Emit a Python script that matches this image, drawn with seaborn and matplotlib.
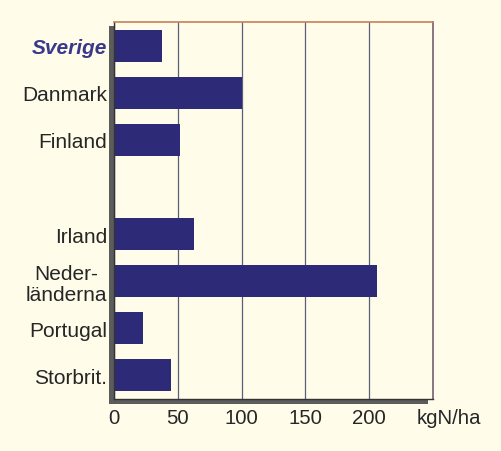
import matplotlib
matplotlib.use("Agg")
import matplotlib.pyplot as plt
from matplotlib.patches import Rectangle
import seaborn as sns
import pandas as pd

# Nitrogen surplus per hectare of farmland
countries = ["Sverige", "Danmark", "Finland", "Irland", "Neder-\nländerna", "Portugal", "Storbrit."]
values = [38, 100, 52, 63, 206, 23, 45]
# an empty slot separates the Nordic countries from the rest
order = ["Sverige", "Danmark", "Finland", " ", "Irland", "Neder-\nländerna", "Portugal", "Storbrit."]
xticks = [0, 50, 100, 150, 200]
unit = "kgN/ha"

paper = "#fffcea"
navy = "#2d2b78"
grid = "#5a5e7a"
ink = "#262626"

sns.set_theme(style="white")
plt.rcParams["font.family"] = ["Liberation Sans", "DejaVu Sans"]

df = pd.DataFrame({"land": countries, "kg": values})

fig = plt.figure(figsize=(5.02, 4.52), dpi=100, facecolor=paper)
ax = fig.add_axes([0.2271, 0.1150, 0.6354, 0.8341])
ax.set_facecolor(paper)

sns.barplot(data=df, x="kg", y="land", order=order, orient="h",
            color=navy, saturation=1, width=0.68, ax=ax, edgecolor="none")

ax.set_xlim(0, 250)
ax.set_ylim(7.5, -0.5)
ax.set_xticks(xticks)
ax.set_xticklabels([str(t) for t in xticks], fontsize=14.7, color=ink)
ax.xaxis.grid(True, color=grid, linewidth=0.9)
ax.yaxis.grid(False)
ax.set_axisbelow(True)
ax.set_xlabel("")
ax.set_ylabel("")
ax.tick_params(axis="x", length=0, pad=6.5)
ax.tick_params(axis="y", length=0, pad=5)

for lab in ax.get_yticklabels():
    lab.set_fontsize(15)
    lab.set_color(ink)
    lab.set_multialignment("center")
    lab.set_linespacing(1.1)
    if lab.get_text() == "Sverige":
        lab.set_fontweight("bold")
        lab.set_fontstyle("italic")
        lab.set_color("#38388c")

ax.spines["top"].set_color("#c8805a")
ax.spines["top"].set_linewidth(1.2)
ax.spines["right"].set_color("#6a5068")
ax.spines["right"].set_linewidth(1.1)
ax.spines["left"].set_color("#333333")
ax.spines["left"].set_linewidth(1.0)
ax.spines["bottom"].set_color("#333333")
ax.spines["bottom"].set_linewidth(1.0)

# drop shadow along the left and bottom frame edges
shade = "#5c5c5c"
ax.add_patch(Rectangle((-0.0157, -0.0133), 0.0157, 1.0023, transform=ax.transAxes,
                       facecolor=shade, edgecolor="none", clip_on=False, zorder=0.5))
ax.add_patch(Rectangle((-0.0157, -0.0133), 1.0, 0.0133, transform=ax.transAxes,
                       facecolor=shade, edgecolor="none", clip_on=False, zorder=0.5))

ax.text(1.05, -0.05, unit, transform=ax.transAxes, ha="center", va="center",
        fontsize=14.7, color=ink)

fig.savefig("out.png", dpi=100, facecolor=paper)
